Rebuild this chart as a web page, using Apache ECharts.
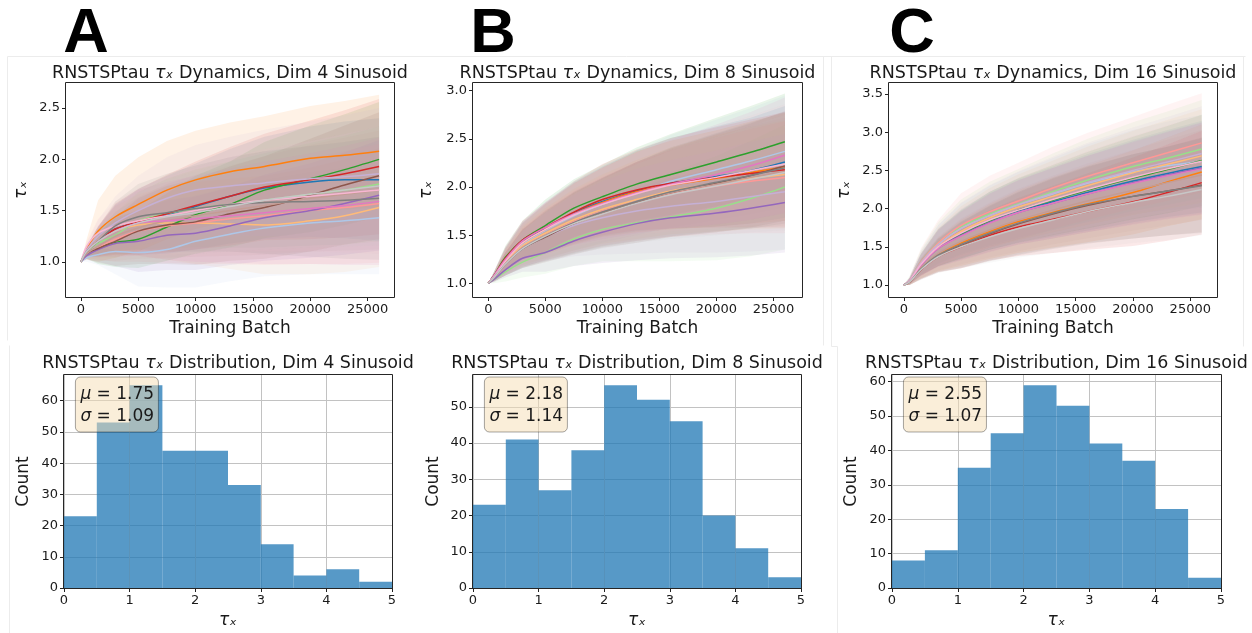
<!DOCTYPE html>
<html><head><meta charset="utf-8">
<script src="https://cdn.jsdelivr.net/npm/echarts@6/dist/echarts.min.js"></script>
<style>html,body{margin:0;padding:0;background:#fff}#c{width:1252px;height:633px}</style>
</head><body><div id="c"></div>
<script>
// ---------------- data ----------------
const batchX = [0, 500, 1500, 3000, 5000, 7500, 10000, 13000, 16000, 20000, 23000, 26000];
const runColors = ['#1f77b4','#aec7e8','#ff7f0e','#ffbb78','#2ca02c','#98df8a','#d62728','#ff9896',
                   '#9467bd','#c5b0d5','#8c564b','#c49c94','#e377c2','#f7b6d2','#7f7f7f','#c7c7c7'];

const dim4Mean = [
  [1.0,1.10,1.20,1.32,1.39,1.46,1.54,1.64,1.72,1.78,1.80,1.80],
  [1.0,1.04,1.07,1.10,1.09,1.12,1.20,1.27,1.33,1.38,1.40,1.43],
  [1.0,1.12,1.30,1.44,1.56,1.70,1.80,1.88,1.93,2.01,2.04,2.08],
  [1.0,1.10,1.20,1.30,1.36,1.38,1.38,1.37,1.36,1.40,1.45,1.53],
  [1.0,1.08,1.14,1.19,1.22,1.34,1.46,1.56,1.70,1.81,1.90,2.00],
  [1.0,1.10,1.18,1.26,1.40,1.47,1.52,1.56,1.60,1.66,1.70,1.76],
  [1.0,1.10,1.20,1.32,1.39,1.47,1.55,1.64,1.73,1.80,1.86,1.93],
  [1.0,1.08,1.14,1.22,1.30,1.35,1.38,1.42,1.45,1.50,1.53,1.57],
  [1.0,1.06,1.12,1.18,1.20,1.26,1.28,1.35,1.43,1.50,1.57,1.65],
  [1.0,1.12,1.25,1.38,1.50,1.62,1.70,1.74,1.77,1.81,1.83,1.86],
  [1.0,1.08,1.13,1.20,1.30,1.36,1.39,1.47,1.53,1.65,1.75,1.84],
  [1.0,1.08,1.15,1.25,1.33,1.40,1.45,1.50,1.55,1.62,1.66,1.70],
  [1.0,1.10,1.20,1.30,1.38,1.40,1.42,1.45,1.48,1.52,1.55,1.59],
  [1.0,1.15,1.28,1.35,1.40,1.45,1.50,1.56,1.60,1.64,1.67,1.70],
  [1.0,1.10,1.20,1.35,1.44,1.48,1.52,1.56,1.58,1.59,1.60,1.62],
  [1.0,1.10,1.20,1.30,1.38,1.44,1.48,1.54,1.60,1.66,1.70,1.74]
];
const dim4Std = [
  [0,.05,.14,.24,.32,.38,.42,.46,.50,.54,.57,.60],
  [0,.04,.10,.22,.33,.37,.45,.46,.47,.50,.52,.55],
  [0,.10,.30,.40,.46,.48,.48,.48,.49,.51,.53,.55],
  [0,.05,.14,.24,.30,.36,.40,.44,.48,.52,.55,.58],
  [0,.05,.16,.24,.28,.33,.38,.42,.47,.52,.54,.56],
  [0,.05,.14,.22,.28,.34,.38,.42,.46,.50,.53,.56],
  [0,.05,.15,.25,.32,.38,.43,.48,.52,.58,.62,.66],
  [0,.04,.12,.22,.30,.36,.40,.44,.48,.52,.55,.58],
  [0,.04,.12,.22,.30,.34,.36,.38,.42,.46,.50,.54],
  [0,.06,.16,.26,.34,.40,.44,.48,.52,.56,.60,.64],
  [0,.05,.14,.24,.32,.38,.42,.46,.50,.55,.58,.62],
  [0,.05,.14,.24,.30,.36,.40,.44,.48,.52,.55,.58],
  [0,.05,.15,.25,.32,.38,.42,.46,.50,.54,.58,.62],
  [0,.05,.14,.24,.32,.38,.42,.46,.50,.54,.58,.62],
  [0,.05,.14,.24,.32,.38,.42,.46,.50,.54,.57,.60],
  [0,.05,.14,.24,.30,.36,.40,.44,.48,.52,.55,.58]
];
const dim8Mean = [
  [1.0,1.08,1.25,1.43,1.57,1.73,1.85,1.96,2.04,2.11,2.17,2.26],
  [1.0,1.07,1.22,1.40,1.55,1.70,1.82,1.94,2.06,2.18,2.27,2.37],
  [1.0,1.07,1.24,1.42,1.56,1.72,1.84,1.95,2.02,2.09,2.15,2.21],
  [1.0,1.07,1.22,1.39,1.52,1.66,1.77,1.87,1.96,2.04,2.09,2.13],
  [1.0,1.08,1.27,1.45,1.60,1.78,1.90,2.03,2.13,2.26,2.36,2.47],
  [1.0,1.04,1.12,1.22,1.32,1.46,1.56,1.63,1.69,1.78,1.88,2.00],
  [1.0,1.08,1.26,1.45,1.58,1.74,1.87,1.97,2.04,2.10,2.14,2.18],
  [1.0,1.06,1.20,1.37,1.50,1.64,1.75,1.85,1.93,2.01,2.06,2.10],
  [1.0,1.04,1.14,1.26,1.32,1.44,1.53,1.62,1.68,1.73,1.78,1.84],
  [1.0,1.06,1.20,1.36,1.48,1.60,1.68,1.75,1.80,1.85,1.90,1.95],
  [1.0,1.06,1.20,1.36,1.48,1.62,1.73,1.84,1.94,2.04,2.12,2.22],
  [1.0,1.06,1.20,1.37,1.50,1.63,1.74,1.85,1.94,2.03,2.10,2.16],
  [1.0,1.08,1.25,1.44,1.58,1.72,1.83,1.94,2.03,2.13,2.22,2.33],
  [1.0,1.07,1.23,1.42,1.56,1.71,1.82,1.93,2.02,2.10,2.17,2.24],
  [1.0,1.06,1.20,1.36,1.49,1.63,1.74,1.85,1.95,2.05,2.12,2.20],
  [1.0,1.06,1.20,1.36,1.49,1.62,1.72,1.83,1.92,2.01,2.08,2.15]
];
const dim8Std = [
  [0,.04,.12,.20,.26,.32,.36,.42,.47,.52,.55,.58],
  [0,.04,.14,.24,.30,.36,.40,.44,.48,.52,.55,.58],
  [0,.04,.12,.20,.26,.32,.36,.42,.46,.50,.53,.56],
  [0,.04,.12,.20,.26,.32,.36,.41,.45,.50,.53,.56],
  [0,.04,.12,.20,.27,.30,.33,.38,.42,.46,.48,.50],
  [0,.04,.10,.16,.22,.28,.33,.40,.46,.54,.60,.65],
  [0,.04,.12,.20,.26,.32,.37,.42,.47,.52,.56,.60],
  [0,.04,.12,.20,.26,.32,.36,.41,.45,.50,.54,.58],
  [0,.03,.08,.14,.20,.26,.32,.38,.42,.46,.49,.52],
  [0,.04,.11,.18,.25,.32,.38,.44,.48,.53,.57,.60],
  [0,.04,.12,.20,.26,.32,.36,.42,.46,.51,.54,.57],
  [0,.04,.12,.20,.26,.31,.35,.40,.45,.50,.53,.56],
  [0,.04,.12,.20,.26,.32,.37,.42,.46,.52,.56,.60],
  [0,.04,.12,.20,.27,.33,.38,.43,.48,.53,.57,.62],
  [0,.04,.12,.20,.26,.32,.36,.41,.46,.51,.55,.58],
  [0,.04,.11,.18,.25,.31,.36,.41,.46,.51,.55,.60]
];
const dim16Mean = [
  [1.0,1.05,1.27,1.49,1.67,1.84,1.97,2.09,2.21,2.36,2.46,2.55],
  [1.0,1.06,1.29,1.53,1.74,1.91,2.05,2.19,2.33,2.48,2.56,2.62],
  [1.0,1.04,1.22,1.40,1.55,1.70,1.83,1.95,2.06,2.21,2.35,2.48],
  [1.0,1.05,1.27,1.50,1.70,1.88,2.02,2.16,2.30,2.47,2.58,2.69],
  [1.0,1.05,1.27,1.49,1.66,1.84,1.98,2.11,2.24,2.40,2.51,2.63],
  [1.0,1.06,1.30,1.55,1.76,1.93,2.06,2.22,2.37,2.55,2.66,2.78],
  [1.0,1.04,1.20,1.37,1.50,1.65,1.76,1.86,1.96,2.09,2.21,2.34],
  [1.0,1.06,1.30,1.55,1.78,1.96,2.10,2.27,2.42,2.60,2.73,2.86],
  [1.0,1.05,1.26,1.48,1.65,1.82,1.95,2.07,2.19,2.34,2.44,2.53],
  [1.0,1.06,1.29,1.53,1.74,1.91,2.05,2.20,2.34,2.50,2.61,2.72],
  [1.0,1.04,1.20,1.38,1.52,1.67,1.80,1.93,2.04,2.16,2.23,2.31],
  [1.0,1.04,1.22,1.41,1.57,1.72,1.85,1.98,2.10,2.24,2.34,2.44],
  [1.0,1.05,1.26,1.48,1.64,1.81,1.95,2.07,2.19,2.33,2.43,2.52],
  [1.0,1.05,1.27,1.50,1.68,1.85,1.98,2.12,2.25,2.41,2.52,2.62],
  [1.0,1.04,1.21,1.39,1.53,1.68,1.81,1.94,2.05,2.16,2.23,2.30],
  [1.0,1.04,1.20,1.37,1.50,1.63,1.74,1.85,1.96,2.08,2.16,2.25]
];
const dim16Std = [
  [0,.04,.14,.24,.32,.38,.42,.46,.50,.54,.57,.60],
  [0,.04,.15,.25,.33,.39,.43,.47,.51,.55,.58,.61],
  [0,.04,.13,.22,.30,.36,.41,.46,.50,.55,.58,.62],
  [0,.04,.15,.25,.33,.39,.43,.47,.51,.55,.58,.61],
  [0,.04,.14,.24,.32,.38,.42,.46,.50,.54,.57,.60],
  [0,.05,.16,.27,.36,.42,.46,.50,.54,.58,.61,.64],
  [0,.04,.12,.20,.28,.33,.38,.44,.50,.58,.63,.68],
  [0,.05,.18,.30,.42,.47,.50,.54,.57,.60,.63,.65],
  [0,.04,.14,.24,.32,.38,.42,.46,.50,.54,.57,.60],
  [0,.04,.15,.26,.34,.40,.44,.48,.52,.56,.59,.62],
  [0,.04,.13,.22,.30,.36,.41,.46,.50,.55,.58,.62],
  [0,.04,.13,.22,.30,.36,.41,.45,.49,.53,.56,.59],
  [0,.04,.14,.24,.32,.38,.42,.46,.50,.54,.57,.60],
  [0,.04,.14,.24,.32,.38,.42,.46,.50,.54,.57,.60],
  [0,.04,.13,.22,.30,.36,.41,.46,.50,.55,.58,.62],
  [0,.04,.12,.20,.28,.34,.38,.43,.48,.53,.57,.60]
];

const binEdges = [0, 0.5, 1, 1.5, 2, 2.5, 3, 3.5, 4, 4.5, 5];
const dim4Counts = [23, 53, 65, 44, 44, 33, 14, 4, 6, 2];
const dim8Counts = [23, 41, 27, 38, 56, 52, 46, 20, 11, 3];
const dim16Counts = [8, 11, 35, 45, 59, 53, 42, 37, 23, 3];
const muLabels = ['1.75', '2.18', '2.55'];
const sigmaLabels = ['1.09', '1.14', '1.07'];
const dimNames = ['4', '8', '16'];
const panelLetters = ['A', 'B', 'C'];

const batchTicks = [0, 5000, 10000, 15000, 20000, 25000];
const dim4TauTicks = [1.0, 1.5, 2.0, 2.5];
const dim8TauTicks = [1.0, 1.5, 2.0, 2.5, 3.0];
const dim16TauTicks = [1.0, 1.5, 2.0, 2.5, 3.0, 3.5];
const histTauTicks = [0, 1, 2, 3, 4, 5];
const dim4CountTicks = [0, 10, 20, 30, 40, 50, 60];
const dim8CountTicks = [0, 10, 20, 30, 40, 50];
const dim16CountTicks = [0, 10, 20, 30, 40, 50, 60];

// ---------------- layout ----------------
const FONT = 'DejaVu Sans';
const TXT = '#1a1a1a';
const topGrids = [
  {left: 66, top: 83, width: 328, height: 214},
  {left: 473, top: 83, width: 329, height: 214},
  {left: 889, top: 83, width: 328, height: 214}
];
const botGrids = [
  {left: 64, top: 375, width: 328, height: 213},
  {left: 473, top: 375, width: 328, height: 213},
  {left: 892, top: 375, width: 329, height: 213}
];
const letterX = [86, 493, 912];
const topXRange = [[-1300, 27300], [-1340, 27500], [-1290, 27330]];
const topYRange = [[0.657, 2.745], [0.858, 3.08], [0.843, 3.644]];
const topMeans = [dim4Mean, dim8Mean, dim16Mean];
const topStds = [dim4Std, dim8Std, dim16Std];
const topTauTicks = [dim4TauTicks, dim8TauTicks, dim16TauTicks];
const histCounts = [dim4Counts, dim8Counts, dim16Counts];
const histCountTicks = [dim4CountTicks, dim8CountTicks, dim16CountTicks];
const yNameGapTop = [36, 38, 36];
const yNameGapBot = [32, 31, 32];

const tickStyle = {fontSize: 13, color: TXT, fontFamily: FONT};
const nameStyle = {fontSize: 17, color: TXT, fontFamily: FONT};
const tauName = {fontSize: 17, color: TXT, fontFamily: FONT, fontStyle: 'italic'};
const TITLE_SIZE = 17.5;

const grids = [], xAxes = [], yAxes = [], series = [], graphics = [];

topGrids.forEach((g, p) => {
  grids.push(Object.assign({outerBoundsMode: 'none', containLabel: false}, g));
  xAxes.push({
    gridIndex: p, type: 'value', min: topXRange[p][0], max: topXRange[p][1],
    axisLine: {show: false, onZero: false},
    axisTick: {show: true, length: 4, lineStyle: {color: '#222'}, customValues: batchTicks},
    axisLabel: {customValues: batchTicks, margin: 6, formatter: v => String(Math.round(v)), ...tickStyle},
    splitLine: {show: false},
    name: 'Training Batch', nameLocation: 'middle', nameGap: 23, nameTextStyle: nameStyle
  });
  yAxes.push({
    gridIndex: p, type: 'value', min: topYRange[p][0], max: topYRange[p][1],
    axisLine: {show: false, onZero: false},
    axisTick: {show: true, length: 4, lineStyle: {color: '#222'}, customValues: topTauTicks[p]},
    axisLabel: {customValues: topTauTicks[p], margin: 6, formatter: v => Number(v).toFixed(1), ...tickStyle},
    splitLine: {show: false},
    name: 'τₓ', nameLocation: 'middle', nameRotate: 90, nameGap: yNameGapTop[p], nameTextStyle: tauName
  });
  const means = topMeans[p], stds = topStds[p];
  // shaded bands: mean ± std, drawn as one polygon per run through the axis scales
  means.forEach((m, i) => {
    const sd = stds[i];
    const color = runColors[i];
    series.push({
      type: 'custom', xAxisIndex: p, yAxisIndex: p, silent: true, animation: false, z: 1,
      encode: {x: 0, y: [1, 2]},
      data: batchX.map((x, k) => [x, m[k] - sd[k], m[k] + sd[k]]),
      renderItem: (params, api) => {
        if (params.dataIndex !== 0) return null;
        const n = params.dataInsideLength;
        const up = [], lo = [];
        for (let k = 0; k < n; k++) {
          up.push(api.coord([api.value(0, k), api.value(2, k)]));
          lo.push(api.coord([api.value(0, k), api.value(1, k)]));
        }
        return {type: 'polygon', shape: {points: up.concat(lo.reverse())},
                style: {fill: color, opacity: 0.1}};
      }
    });
  });
  means.forEach((m, i) => {
    series.push({
      type: 'line', xAxisIndex: p, yAxisIndex: p, silent: true, animation: false,
      symbol: 'none', smooth: 0.3, z: 3,
      lineStyle: {color: runColors[i], width: 1.5},
      data: batchX.map((x, k) => [x, m[k]])
    });
  });
});

botGrids.forEach((g, p) => {
  const gi = 3 + p;
  grids.push(Object.assign({outerBoundsMode: 'none', containLabel: false}, g));
  xAxes.push({
    gridIndex: gi, type: 'value', min: binEdges[0], max: binEdges[binEdges.length - 1], interval: 1,
    axisLine: {show: false, onZero: false},
    axisTick: {show: true, length: 4, lineStyle: {color: '#222'}, customValues: histTauTicks},
    axisLabel: {customValues: histTauTicks, margin: 6, ...tickStyle},
    splitLine: {show: true, lineStyle: {color: '#c2c2c2', width: 1}},
    name: 'τₓ', nameLocation: 'middle', nameGap: 24, nameTextStyle: tauName
  });
  const counts = histCounts[p];
  yAxes.push({
    gridIndex: gi, type: 'value', min: 0, max: Math.max(...counts) * 1.05, interval: 10,
    axisLine: {show: false, onZero: false},
    axisTick: {show: true, length: 4, lineStyle: {color: '#222'}, customValues: histCountTicks[p]},
    axisLabel: {customValues: histCountTicks[p], margin: 6, ...tickStyle},
    splitLine: {show: true, lineStyle: {color: '#c2c2c2', width: 1}},
    name: 'Count', nameLocation: 'middle', nameRotate: 90, nameGap: yNameGapBot[p], nameTextStyle: nameStyle
  });
  series.push({
    type: 'custom', xAxisIndex: gi, yAxisIndex: gi, silent: true, animation: false, z: 2,
    encode: {x: [0, 1], y: 2},
    data: counts.map((c, k) => [binEdges[k], binEdges[k + 1], c]),
    renderItem: (params, api) => {
      const a = api.coord([api.value(0), api.value(2)]);
      const b = api.coord([api.value(1), 0]);
      return {type: 'rect', shape: {x: a[0], y: a[1], width: b[0] - a[0], height: b[1] - a[1]},
              style: {fill: 'rgba(31,119,180,0.75)'}};
    }
  });
});

// ---------------- annotations ----------------
function txt(x, y, text, extra, rich) {
  const st = Object.assign({text, x, y, fill: TXT, fontSize: 17, fontFamily: FONT,
    align: 'center', verticalAlign: 'middle', textAlign: 'center', textVerticalAlign: 'middle'}, extra || {});
  if (rich) st.rich = rich;
  return {type: 'text', z: 100, silent: true, style: st};
}
const richTau = {m: {fontStyle: 'italic', fontSize: TITLE_SIZE, fontFamily: FONT, fill: TXT}};

const borderLines = [
  [7, 56, 1245, 56], [7, 56, 7, 340], [823, 56, 823, 345], [831, 56, 831, 346],
  [1243, 56, 1243, 346], [9, 345, 9, 633], [837, 346, 837, 633], [831, 346, 837, 346]
];
borderLines.forEach(l => graphics.push({type: 'line', z: 0, silent: true,
  shape: {x1: l[0] + 0.5, y1: l[1] + 0.5, x2: l[2] + 0.5, y2: l[3] + 0.5},
  style: {stroke: '#ececec', lineWidth: 1}}));

topGrids.forEach((g, p) => {
  const cx = g.left + g.width / 2;
  graphics.push(txt(cx, 73.5, 'RNSTSPtau {m|τₓ} Dynamics, Dim ' + dimNames[p] + ' Sinusoid',
    {fontSize: TITLE_SIZE}, richTau));
  graphics.push(txt(letterX[p], 35, panelLetters[p],
    {fontSize: 63, fontWeight: 'bold', fontFamily: 'Liberation Sans', fill: '#000'}));
});

botGrids.forEach((g, p) => {
  const cx = g.left + g.width / 2;
  graphics.push(txt(cx, 363.5, 'RNSTSPtau {m|τₓ} Distribution, Dim ' + dimNames[p] + ' Sinusoid',
    {fontSize: TITLE_SIZE}, richTau));
});

const frames = topGrids.concat(botGrids);
frames.forEach(g => graphics.push({type: 'rect', z: 50, silent: true,
  shape: {x: g.left - 0.5, y: g.top - 0.5, width: g.width + 1, height: g.height + 1},
  style: {fill: 'none', stroke: '#262626', lineWidth: 1}}));

botGrids.forEach((g, p) => {
  const tx = g.left + 0.05 * g.width;
  graphics.push({type: 'rect', z: 60, silent: true,
    shape: {x: tx - 5, y: g.top + 2, width: 83, height: 55, r: 5},
    style: {fill: 'rgba(245,222,179,0.5)', stroke: 'rgba(0,0,0,0.35)', lineWidth: 1}});
  const richMu = {
    i: {fontStyle: 'italic', fontSize: 17, fontFamily: FONT, fill: TXT},
    n: {fontSize: 17, fontFamily: FONT, fill: TXT}
  };
  graphics.push(txt(tx, g.top + 20, '{i|μ}{n| = ' + muLabels[p] + '}',
    {align: 'left', textAlign: 'left'}, richMu));
  graphics.push(txt(tx, g.top + 42, '{i|σ}{n| = ' + sigmaLabels[p] + '}',
    {align: 'left', textAlign: 'left'}, richMu));
});

const chart = echarts.init(document.getElementById('c'), null, {renderer: 'canvas'});
chart.setOption({
  animation: false,
  backgroundColor: '#ffffff',
  grid: grids, xAxis: xAxes, yAxis: yAxes, series: series,
  graphic: {elements: graphics}
});
</script>
</body></html>
